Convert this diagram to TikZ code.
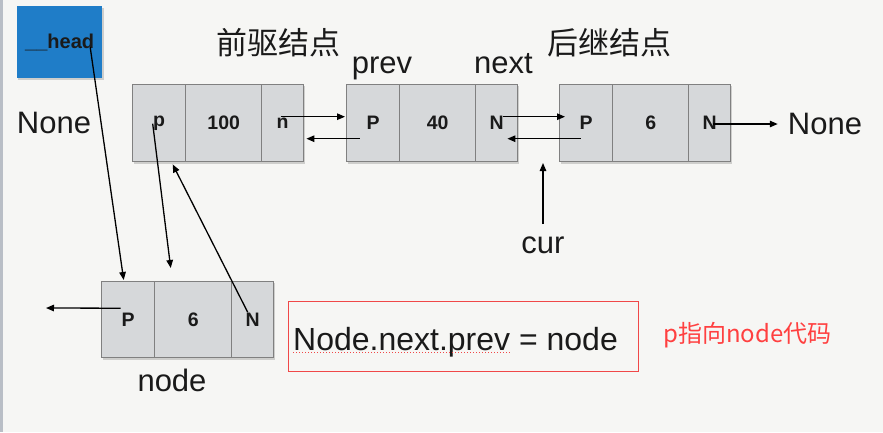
\documentclass[tikz,border=0pt]{standalone}
\usepackage{fontspec}
\setmainfont{Liberation Sans}
\newfontfamily\cjk{Noto Sans CJK SC}
\usetikzlibrary{arrows.meta}
\definecolor{bg}{HTML}{F6F6F4}
\definecolor{leftbar}{HTML}{B9BEC6}
\definecolor{cellfill}{HTML}{D6D8DA}
\definecolor{cellborder}{HTML}{808080}
\definecolor{headblue}{HTML}{1F7DC8}
\definecolor{txt}{HTML}{1A1A1A}
\definecolor{redc}{HTML}{F04848}
\definecolor{redtxt}{HTML}{FF4040}
\begin{document}
\begin{tikzpicture}[x=1pt,y=-1pt,
  cell/.style={draw=cellborder, line width=1.4pt, fill=cellfill, minimum height=77pt,
    inner sep=0pt, anchor=north west, font=\fontsize{19.5}{20}\selectfont\bfseries, text=txt},
  lbl/.style={font=\fontsize{31}{32}\selectfont, text=txt, inner sep=0pt},
  cjklbl/.style={font=\cjk\fontsize{31}{32}\selectfont, text=txt, inner sep=0pt},
  arr/.style={-{Triangle[length=8pt,width=6.5pt]}, line width=1.3pt, draw=black},
  shadowc/.style={fill=black, opacity=.16}]
\useasboundingbox (0,0) rectangle (883,432);
\fill[bg] (0,0) rectangle (883,432);
\fill[leftbar] (0,0) rectangle (3,432);

% head
\fill[shadowc] (18,8) rectangle (103.5,80);
\node[fill=headblue, minimum width=85pt, minimum height=72pt, anchor=north west, inner sep=0pt,
  font=\fontsize{20}{21}\selectfont\bfseries, text=txt] (head) at (17,6) {\_\_head};

% titles
\node[cjklbl] (pre) at (278,43) {前驱结点};
\node[cjklbl] (suc) at (609,43) {后继结点};
\node[lbl, anchor=base] (prevl) at (382,73) {prev};
\node[lbl, anchor=base] (nextl) at (503.5,73) {next};
\node[lbl] (noneL) at (54,122.5) {None};
\node[lbl] (noneR) at (825,124) {None};
\node[lbl, anchor=base] (cur) at (543,253) {cur};
\node[lbl, anchor=base] (nodel) at (172,391) {node};

% shadows
\fill[shadowc] (133.5,86) rectangle (304.5,163.5);
\fill[shadowc] (347.5,86) rectangle (518.5,163.5);
\fill[shadowc] (560.5,86) rectangle (731.5,163.5);
\fill[shadowc] (102.5,283) rectangle (274.5,359.5);

% node 1
\node[cell, minimum width=53pt] (ap) at (132,84) {p};
\node[cell, minimum width=76pt] (am) at (185,84) {100};
\node[cell, minimum width=42pt] (an) at (261,84) {n};
% node 2
\node[cell, minimum width=53pt] (bp) at (346,84) {P};
\node[cell, minimum width=76pt] (bm) at (399,84) {40};
\node[cell, minimum width=42pt] (bn) at (475,84) {N};
% node 3
\node[cell, minimum width=53pt] (cp) at (559,84) {P};
\node[cell, minimum width=76pt] (cm) at (612,84) {6};
\node[cell, minimum width=42pt] (cn) at (688,84) {N};
% node 4
\node[cell, minimum width=53pt, minimum height=76pt] (dp) at (101,281) {P};
\node[cell, minimum width=77pt, minimum height=76pt] (dm) at (154,281) {6};
\node[cell, minimum width=42pt, minimum height=76pt] (dn) at (231,281) {N};

% free ends
\coordinate (curtip) at (543,163);
\coordinate (leftend) at (46,308);

% connectors
\draw[arr] ([xshift=30.5pt,yshift=-5pt]head.center) -- ([xshift=-4.5pt,yshift=1pt]dp.north);
\draw[arr] ([xshift=-6.5pt,yshift=-0.5pt]ap.center) -- ([xshift=-22.5pt,yshift=13pt]dm.north);
\draw[arr] ([xshift=-5pt,yshift=7.5pt]dn.center) -- ([xshift=13.5pt,yshift=-2pt]ap.south);
\draw[arr] ([xshift=-2pt,yshift=6.5pt]an.center) -- ([xshift=-1pt,yshift=6.5pt]bp.west);
\draw[arr] ([xshift=-13.5pt,yshift=-15.5pt]bp.center) -- ([xshift=2pt,yshift=-15.5pt]an.east);
\draw[arr] ([xshift=6pt,yshift=6.5pt]bn.center) -- ([xshift=6pt,yshift=6.5pt]cp.west);
\draw[arr] ([xshift=-5.5pt,yshift=-15.5pt]cp.center) -- ([xshift=-11pt,yshift=-15.5pt]bn.east);
\draw[arr] ([xshift=3pt]cn.center |- noneR.west) -- ([xshift=-10pt]noneR.west);
\draw[arr] ([yshift=12pt]cur.north) -- (curtip);
\draw[arr] ([xshift=-7.5pt,yshift=11.5pt]dp.center) -- (leftend);

% code box
\node[draw=redc, line width=1.2pt, minimum width=350pt, minimum height=70pt, anchor=north west,
  inner sep=0pt] (codebox) at (288,301) {};
\node[font=\fontsize{32}{33}\selectfont, text=txt, inner sep=0pt, anchor=base west] (code) at (293,350) {Node.next.prev = node};
\draw[redc, dotted, line width=1pt] ([yshift=-2pt]code.base west) -- ([yshift=-2pt,xshift=217pt]code.base west);
\node[font=\cjk\fontsize{24}{25}\selectfont, text=redtxt, inner sep=0pt, anchor=base west] (note) at (663,342) {p指向node代码};
\end{tikzpicture}
\end{document}
